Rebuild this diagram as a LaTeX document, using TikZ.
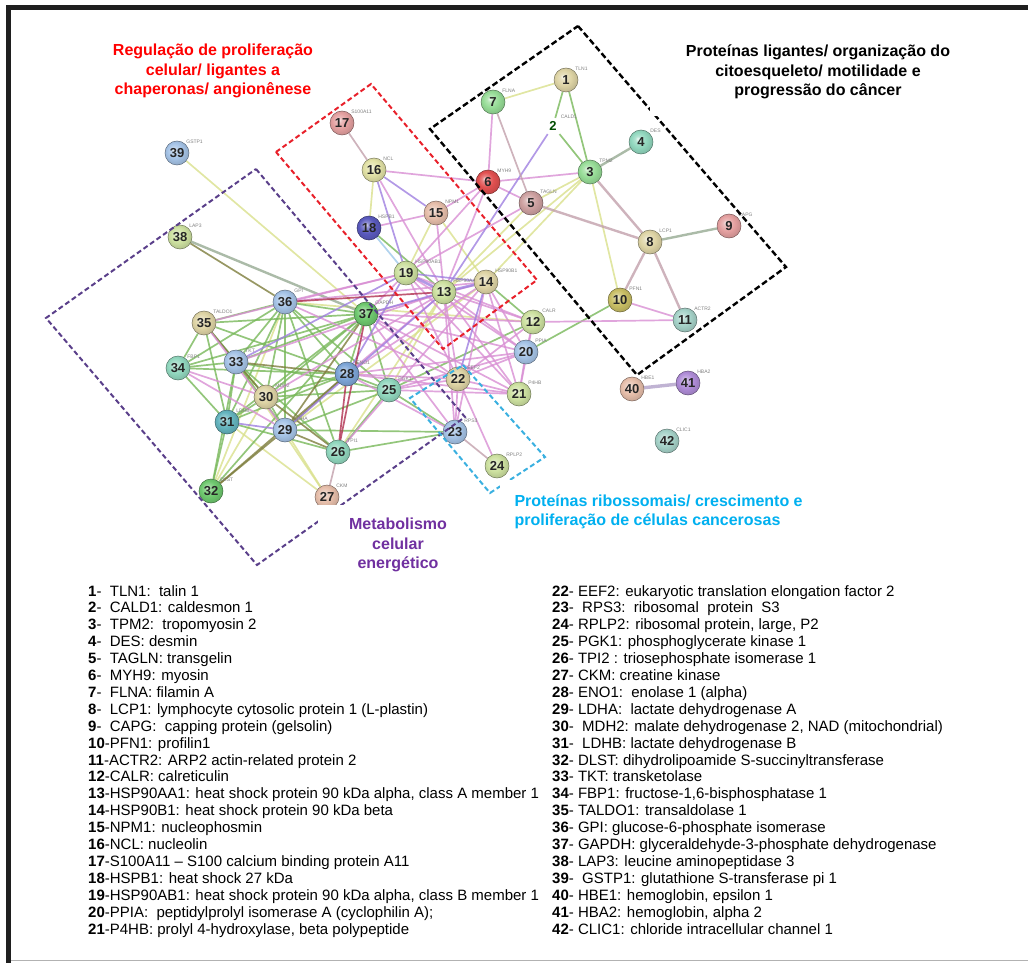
\documentclass[tikz,border=0pt]{standalone}
\usepackage{fontspec}
\setmainfont{Liberation Sans}
\usetikzlibrary{backgrounds}

% node colours
\definecolor{ntan}{RGB}{222,212,165}
\definecolor{ngreen}{RGB}{150,220,150}
\definecolor{nmint}{RGB}{145,215,190}
\definecolor{nmauve}{RGB}{205,160,160}
\definecolor{nred}{RGB}{225,80,80}
\definecolor{npink}{RGB}{228,160,160}
\definecolor{nolive}{RGB}{200,190,100}
\definecolor{nteal}{RGB}{165,210,200}
\definecolor{nlime}{RGB}{205,225,160}
\definecolor{npeach}{RGB}{230,190,170}
\definecolor{nyellow}{RGB}{225,225,165}
\definecolor{nblue}{RGB}{90,90,190}
\definecolor{nsky}{RGB}{165,195,230}
\definecolor{nsteel}{RGB}{125,165,215}
\definecolor{ncyan}{RGB}{100,180,190}
\definecolor{nleaf}{RGB}{110,200,110}
\definecolor{nviolet}{RGB}{175,140,215}
% edge colours
\definecolor{eyellow}{RGB}{217,224,140}
\definecolor{egreen}{RGB}{120,184,90}
\definecolor{egray}{RGB}{150,170,146}
\definecolor{eolive}{RGB}{125,125,60}
\definecolor{epink}{RGB}{216,143,211}
\definecolor{eviolet}{RGB}{159,127,224}
\definecolor{emauve}{RGB}{194,160,171}
\definecolor{ered}{RGB}{176,48,80}
\definecolor{eblue}{RGB}{158,200,234}
\definecolor{elav}{RGB}{176,160,200}
% group colours
\definecolor{gred}{RGB}{232,32,42}
\definecolor{gpurple}{RGB}{90,63,138}
\definecolor{gcyan}{RGB}{58,176,224}
\definecolor{tpurple}{RGB}{112,48,160}
\definecolor{tblue}{RGB}{0,176,240}

\colorlet{protc}{gray}
\pgfdeclareradialshading[protc]{protball}{\pgfpoint{-7bp}{7bp}}{%
    color(0bp)=(protc!15!white); color(6bp)=(protc!70!white);
    color(16bp)=(protc); color(27bp)=(protc!88!black);
    color(32bp)=(protc!72!black); color(50bp)=(protc!72!black)}

\tikzset{
    prot/.style={circle, minimum size=24, inner sep=0pt,
        /utils/exec={\colorlet{protc}{#1}}, shading=protball, shade,
        draw=protc!55!black, line width=0.5,
        font=\fontsize{13}{13}\selectfont\bfseries, text=black!85},
    gene/.style={font=\fontsize{5}{5}\selectfont, text=black!50, inner sep=0.5pt, draw=none, shade=false},
    link/.style={draw=#1, line width=1.7, opacity=.8},
    group/.style={draw=#1, line width=2, dash pattern=on 5pt off 3pt},
    title/.style={font=\fontsize{16}{19.2}\selectfont\bfseries, align=center, text=#1},
    legend/.style={font=\fontsize{15}{16.9}\selectfont, align=left, inner sep=0pt, anchor=north west},
}

\begin{document}
\begin{tikzpicture}[x=1pt, y=-1pt]
                    \useasboundingbox (0, 0) rectangle (1028, 963);

                    % proteins
                    \node[prot=ntan, label={[gene]45:TLN1}] at (566, 80) (P_1) {1};
                    \node[font=\fontsize{13}{13}\selectfont\bfseries, text=black!70!green, label={[gene]45:CALD1}] at (553, 126) (P_2) {2};
                    \node[prot=ngreen, label={[gene]45:TPM2}] at (590, 172) (P_3) {3};
                    \node[prot=nmint, label={[gene]45:DES}] at (641, 142) (P_4) {4};
                    \node[prot=nmauve, label={[gene]45:TAGLN}] at (531, 203) (P_5) {5};
                    \node[prot=nred, label={[gene]45:MYH9}] at (488, 182) (P_6) {6};
                    \node[prot=ngreen, label={[gene]45:FLNA}] at (493, 102) (P_7) {7};
                    \node[prot=ntan, label={[gene]45:LCP1}] at (650, 242) (P_8) {8};
                    \node[prot=npink, label={[gene]45:CAPG}] at (729, 226) (P_9) {9};
                    \node[prot=nolive, label={[gene]45:PFN1}] at (620, 300) (P_10) {10};
                    \node[prot=nteal, label={[gene]45:ACTR2}] at (685, 320) (P_11) {11};
                    \node[prot=nlime, label={[gene]45:CALR}] at (533, 322) (P_12) {12};
                    \node[prot=nlime, label={[gene]45:HSP90AA1}] at (444, 292) (P_13) {13};
                    \node[prot=ntan, label={[gene]45:HSP90B1}] at (486, 282) (P_14) {14};
                    \node[prot=npeach, label={[gene]45:NPM1}] at (436, 213) (P_15) {15};
                    \node[prot=nyellow, label={[gene]45:NCL}] at (374, 170) (P_16) {16};
                    \node[prot=npink, label={[gene]45:S100A11}] at (342, 123) (P_17) {17};
                    \node[prot=nblue, label={[gene]45:HSPB1}] at (369, 228) (P_18) {18};
                    \node[prot=nlime, label={[gene]45:HSP90AB1}] at (406, 273) (P_19) {19};
                    \node[prot=nsky, label={[gene]45:PPIA}] at (526, 352) (P_20) {20};
                    \node[prot=nlime, label={[gene]45:P4HB}] at (519, 394) (P_21) {21};
                    \node[prot=ntan, label={[gene]45:EEF2}] at (458, 379) (P_22) {22};
                    \node[prot=nsky, label={[gene]45:RPS3}] at (455, 432) (P_23) {23};
                    \node[prot=nlime, label={[gene]45:RPLP2}] at (497, 466) (P_24) {24};
                    \node[prot=nmint, label={[gene]45:PGK1}] at (389, 390) (P_25) {25};
                    \node[prot=nmint, label={[gene]45:TPI1}] at (338, 452) (P_26) {26};
                    \node[prot=npeach, label={[gene]45:CKM}] at (327, 497) (P_27) {27};
                    \node[prot=nsteel, label={[gene]45:ENO1}] at (347, 374) (P_28) {28};
                    \node[prot=nsky, label={[gene]45:LDHA}] at (285, 430) (P_29) {29};
                    \node[prot=ntan, label={[gene]45:MDH2}] at (266, 397) (P_30) {30};
                    \node[prot=ncyan, label={[gene]45:LDHB}] at (227, 422) (P_31) {31};
                    \node[prot=nleaf, label={[gene]45:DLST}] at (211, 491) (P_32) {32};
                    \node[prot=nsky, label={[gene]45:TKT}] at (236, 362) (P_33) {33};
                    \node[prot=nmint, label={[gene]45:FBP1}] at (178, 368) (P_34) {34};
                    \node[prot=ntan, label={[gene]45:TALDO1}] at (204, 323) (P_35) {35};
                    \node[prot=nsky, label={[gene]45:GPI}] at (285, 302) (P_36) {36};
                    \node[prot=nleaf, label={[gene]45:GAPDH}] at (366, 314) (P_37) {37};
                    \node[prot=nlime, label={[gene]45:LAP3}] at (180, 237) (P_38) {38};
                    \node[prot=nsky, label={[gene]45:GSTP1}] at (177, 153) (P_39) {39};
                    \node[prot=npeach, label={[gene]45:HBE1}] at (632, 389) (P_40) {40};
                    \node[prot=nviolet, label={[gene]45:HBA2}] at (688, 383) (P_41) {41};
                    \node[prot=nteal, label={[gene]45:CLIC1}] at (667, 441) (P_42) {42};

                    \begin{pgfonlayer}{background}
                    % frame
                    \fill[black!88] (6, 5) rectangle (1028, 10);
                    \fill[black!88] (6, 5) rectangle (11, 963);
                    \draw[black!30, line width=1.2] (11, 960.5) -- (1028, 960.5);

                    \path[link=eyellow]
                        (P_1) edge (P_7)  (P_3) edge (P_10)  (P_3) edge (P_5)  (P_3) edge (P_13)
                        (P_3) edge (P_14)  (P_5) edge (P_13)  (P_16) edge (P_18)  (P_15) edge (P_19)
                        (P_15) edge (P_14)  (P_25) edge (P_13)  (P_26) edge (P_13)  (P_36) edge (P_12)
                        (P_29) edge (P_14)  (P_36) edge (P_32)  (P_27) edge (P_31)  (P_27) edge (P_29)
                        (P_27) edge (P_33)  (P_39) edge (P_37)  (P_30) edge (P_32);
                    \path[link=egreen]
                        (P_1) edge (P_2)  (P_1) edge (P_3)  (P_2) edge (P_3)  (P_10) edge (P_20)
                        (P_18) edge (P_13)  (P_14) edge (P_12)  (P_25) edge (P_12)  (P_23) edge (P_25)
                        (P_23) edge (P_26)  (P_23) edge (P_29)
                        (P_36) edge (P_35)  (P_36) edge (P_33)  (P_36) edge (P_34)  (P_36) edge (P_31)
                        (P_36) edge (P_30)  (P_36) edge (P_29)  (P_36) edge (P_28)  (P_36) edge (P_26)
                        (P_36) edge (P_37)  (P_36) edge (P_25)  (P_35) edge (P_34)  (P_35) edge (P_31)
                        (P_35) edge (P_30)  (P_35) edge (P_37)  (P_35) edge (P_28)  (P_34) edge (P_33)
                        (P_34) edge (P_31)  (P_34) edge (P_37)  (P_34) edge (P_28)  (P_33) edge (P_31)
                        (P_33) edge (P_29)  (P_33) edge (P_37)  (P_33) edge (P_26)  (P_33) edge (P_25)
                        (P_31) edge (P_32)  (P_31) edge (P_30)  (P_31) edge (P_28)  (P_31) edge (P_37)
                        (P_31) edge (P_26)  (P_29) edge (P_30)  (P_29) edge (P_25)  (P_30) edge (P_28)
                        (P_30) edge (P_37)  (P_30) edge (P_25)  (P_28) edge (P_25)  (P_28) edge (P_37)
                        (P_26) edge (P_25)  (P_25) edge (P_37)  (P_32) edge (P_37)  (P_32) edge (P_33);
                    \path[link=egray, line width=2.4]
                        (P_3) edge (P_4)  (P_8) edge (P_9)  (P_38) edge (P_37);
                    \path[link=eolive]
                        (P_35) edge (P_33)  (P_33) edge (P_30)  (P_33) edge (P_28)  (P_29) edge (P_28)
                        (P_29) edge (P_26)  (P_29) edge (P_37)  (P_29) edge (P_32)  (P_30) edge (P_26)
                        (P_32) edge (P_28)  (P_38) edge (P_36);
                    \path[link=epink]
                        (P_7) edge (P_6)  (P_3) edge (P_6)  (P_6) edge (P_5)  (P_6) edge (P_16)
                        (P_6) edge (P_15)  (P_10) edge (P_11)  (P_11) edge (P_12)  (P_6) edge (P_13)
                        (P_6) edge (P_19)  (P_5) edge (P_19)  (P_16) edge (P_13)  (P_18) edge (P_15)
                        (P_15) edge (P_13)  (P_13) edge (P_12)  (P_13) edge (P_20)  (P_13) edge (P_21)
                        (P_13) edge (P_22)  (P_14) edge (P_20)  (P_14) edge (P_21)  (P_19) edge (P_22)
                        (P_19) edge (P_20)  (P_19) edge (P_21)  (P_13) edge (P_23)  (P_14) edge (P_23)
                        (P_22) edge (P_20)  (P_22) edge (P_21)  (P_22) edge (P_23)  (P_22) edge (P_24)
                        (P_12) edge (P_20)  (P_12) edge (P_21)  (P_12) edge (P_22)  (P_20) edge (P_21)
                        (P_19) edge (P_12)  (P_36) edge (P_19)  (P_36) edge (P_14)  (P_37) edge (P_19)
                        (P_37) edge (P_14)  (P_37) edge (P_12)  (P_37) edge (P_20)  (P_37) edge (P_21)
                        (P_37) edge (P_22)  (P_28) edge (P_13)  (P_28) edge (P_14)  (P_28) edge (P_20)
                        (P_28) edge (P_21)  (P_25) edge (P_20)  (P_25) edge (P_21)  (P_26) edge (P_14)
                        (P_30) edge (P_13)  (P_36) edge (P_22)  (P_28) edge (P_22)  (P_25) edge (P_22)
                        (P_37) edge (P_23)  (P_28) edge (P_23)  (P_33) edge (P_13)  (P_35) edge (P_19)
                        (P_35) edge (P_29)  (P_34) edge (P_30)  (P_34) edge (P_29);
                    \path[link=eviolet]
                        (P_2) edge (P_13)  (P_16) edge (P_15)  (P_16) edge (P_19)  (P_19) edge (P_14)
                        (P_37) edge (P_13)  (P_28) edge (P_19)  (P_29) edge (P_13)  (P_33) edge (P_19)
                        (P_31) edge (P_29)  (P_14) edge (P_22);
                    \path[link=eviolet, line width=2.6]
                        (P_14) edge (P_13)  (P_19) edge (P_13);
                    \path[link=emauve]
                        (P_7) edge (P_5)  (P_17) edge (P_16)  (P_23) edge (P_24)  (P_26) edge (P_27);
                    \path[link=emauve, line width=2.4]
                        (P_3) edge (P_8)  (P_5) edge (P_8)  (P_8) edge (P_10)  (P_8) edge (P_11);
                    \path[link=ered]
                        (P_36) edge (P_13)  (P_37) edge (P_26)  (P_28) edge (P_26);
                    \path[link=eblue] (P_18) edge (P_19);
                    \path[link=elav, line width=3.4] (P_40) edge (P_41);
                    \end{pgfonlayer}

                    % groups
                    \draw[group=gred] (276, 152) -- (371, 84) -- (537, 280) -- (443, 349) -- cycle;
                    \draw[group=black, line width=2.4, dash pattern=on 6pt off 3pt] (578, 26) -- (786, 267) -- (637, 375) -- (430, 129) -- cycle;
                    \draw[group=gpurple] (256, 169) -- (465, 417) -- (257, 565) -- (46, 318) -- cycle;
                    \draw[group=gcyan] (463, 365) -- (545, 457) -- (490, 493) -- (410, 398) -- cycle;

                    % titles
                    \fill[white] (650, 35) rectangle (965, 116);
                    \fill[white] (318, 505) rectangle (495, 578);
                    \fill[white] (500, 480) rectangle (820, 540);
                    \node[title=red] at (213, 71) (T_reg) {Regulação de proliferação\\celular/ ligantes a\\chaperonas/ angionênese};
                    \node[title=black] at (818, 72) (T_cito) {Proteínas ligantes/ organização do\\citoesqueleto/ motilidade e\\progressão do câncer};
                    \node[title=tpurple] at (398, 545) (T_met) {Metabolismo\\celular\\energético};
                    \node[title=tblue, align=left, anchor=west] at (511, 512) (T_rib) {Proteínas ribossomais/ crescimento e\\proliferação de células cancerosas};

                    % legend
                    \node[legend] at (88, 585) (L_a) {\textbf{1}-\ \ TLN1:\ \ talin 1\\
                        \textbf{2}-\ \ CALD1: caldesmon 1\\
                        \textbf{3}-\ \ TPM2:\ \ tropomyosin 2\\
                        \textbf{4}-\ \ DES: desmin\\
                        \textbf{5}-\ \ TAGLN: transgelin\\
                        \textbf{6}-\ \ MYH9: myosin\\
                        \textbf{7}-\ \ FLNA: filamin A\\
                        \textbf{8}-\ \ LCP1: lymphocyte cytosolic protein 1 (L-plastin)\\
                        \textbf{9}-\ \ CAPG:\ \ capping protein (gelsolin)\\
                        \textbf{10}-PFN1: profilin1\\
                        \textbf{11}-ACTR2: ARP2 actin-related protein 2\\
                        \textbf{12}-CALR: calreticulin\\
                        \textbf{13}-HSP90AA1: heat shock protein 90 kDa alpha, class A member 1\\
                        \textbf{14}-HSP90B1: heat shock protein 90 kDa beta\\
                        \textbf{15}-NPM1: nucleophosmin\\
                        \textbf{16}-NCL: nucleolin\\
                        \textbf{17}-S100A11 -- S100 calcium binding protein A11\\
                        \textbf{18}-HSPB1: heat shock 27 kDa\\
                        \textbf{19}-HSP90AB1: heat shock protein 90 kDa alpha, class B member 1\\
                        \textbf{20}-PPIA:\ \ peptidylprolyl isomerase A (cyclophilin A);\\
                        \textbf{21}-P4HB: prolyl 4-hydroxylase, beta polypeptide};
                    \node[legend] at (552, 585) (L_b) {\textbf{22}- EEF2: eukaryotic translation elongation factor 2\\
                        \textbf{23}-\ \ RPS3:\ \ ribosomal\ \ protein\ \ S3\\
                        \textbf{24}- RPLP2: ribosomal protein, large, P2\\
                        \textbf{25}- PGK1: phosphoglycerate kinase 1\\
                        \textbf{26}- TPI2 : triosephosphate isomerase 1\\
                        \textbf{27}- CKM: creatine kinase\\
                        \textbf{28}- ENO1:\ \ enolase 1 (alpha)\\
                        \textbf{29}- LDHA:\ \ lactate dehydrogenase A\\
                        \textbf{30}-\ \ MDH2: malate dehydrogenase 2, NAD (mitochondrial)\\
                        \textbf{31}-\ \ LDHB: lactate dehydrogenase B\\
                        \textbf{32}- DLST: dihydrolipoamide S-succinyltransferase\\
                        \textbf{33}- TKT: transketolase\\
                        \textbf{34}- FBP1: fructose-1,6-bisphosphatase 1\\
                        \textbf{35}- TALDO1: transaldolase 1\\
                        \textbf{36}- GPI: glucose-6-phosphate isomerase\\
                        \textbf{37}- GAPDH: glyceraldehyde-3-phosphate dehydrogenase\\
                        \textbf{38}- LAP3: leucine aminopeptidase 3\\
                        \textbf{39}-\ \ GSTP1: glutathione S-transferase pi 1\\
                        \textbf{40}- HBE1: hemoglobin, epsilon 1\\
                        \textbf{41}- HBA2: hemoglobin, alpha 2\\
                        \textbf{42}- CLIC1: chloride intracellular channel 1};
\end{tikzpicture}
\end{document}
